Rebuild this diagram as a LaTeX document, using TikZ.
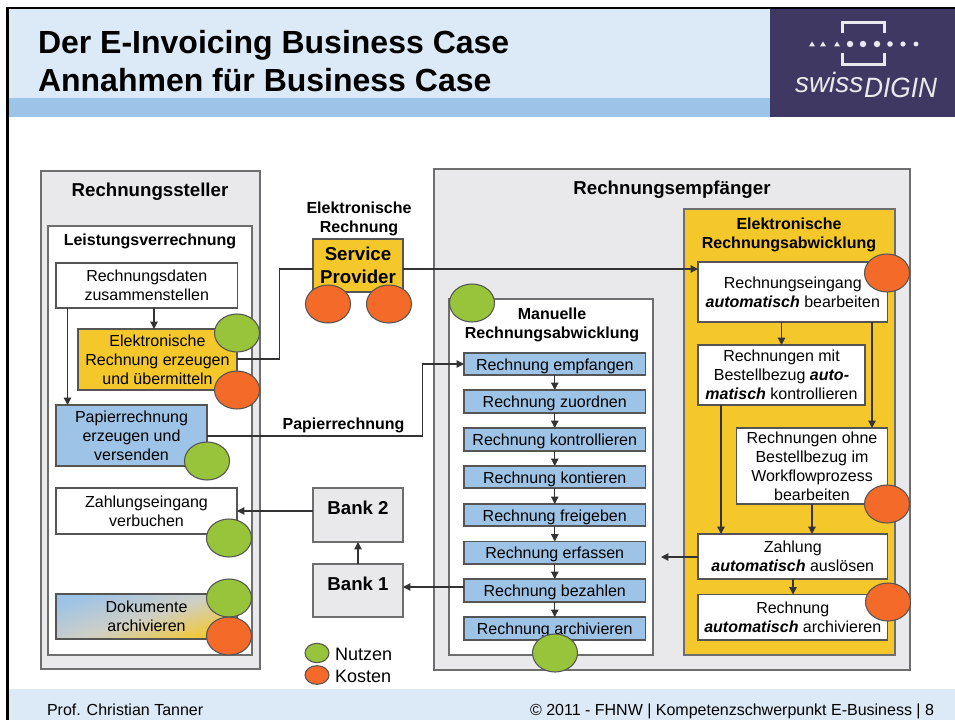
\documentclass[tikz,border=0pt]{standalone}
\usepackage{fontspec}
\setmainfont{Liberation Sans}
\usetikzlibrary{arrows.meta,shapes.geometric}
\def\pxu{0.75pt}
\definecolor{hdr}{HTML}{DCEAF8}
\definecolor{band}{HTML}{9CC4E8}
\definecolor{logo}{HTML}{3F3863}
\definecolor{panel}{HTML}{E9E9EB}
\definecolor{gelb}{HTML}{F4C82A}
\definecolor{blau}{HTML}{9DC3E6}
\definecolor{gruen}{HTML}{97C43A}
\definecolor{rot}{HTML}{F46A29}
\definecolor{rand}{HTML}{555555}
\definecolor{panelrand}{HTML}{6E6E6E}
\definecolor{linie}{HTML}{333333}
\definecolor{logotext}{HTML}{E9E9EE}
\definecolor{mitte}{HTML}{CFCFC6}
\newcommand{\fs}[2]{\fontsize{#1}{#2}\selectfont}
\tikzset{
  x=0.75pt,y=-0.75pt,
  plain/.style={inner sep=0pt,outer sep=0pt},
  boxbase/.style={draw=rand,line width=1pt,inner sep=0pt,outer sep=0pt,align=center,font=\fs{12}{14.25}},
  panelbox/.style={boxbase,fill=panel,draw=panelrand,line width=1.1pt},
  whitebox/.style={boxbase,fill=white},
  yellowbox/.style={boxbase,fill=gelb},
  bluebox/.style={boxbase,fill=blau},
  chainbox/.style={bluebox,text height=10pt,text depth=1pt},
  head/.style={plain,align=center,font=\bfseries\fs{12}{14.25},text=black},
  headbig/.style={plain,font=\bfseries\fs{14}{17},text=black},
  nutzen/.style={ellipse,draw=rand,fill=gruen,line width=0.8pt,minimum width=33.75pt,minimum height=28.5pt,inner sep=0pt,outer sep=0pt},
  kosten/.style={nutzen,fill=rot},
  conn/.style={draw=linie,line width=0.9pt,-{Triangle[length=5.5pt,width=5.5pt]}},
  link/.style={draw=linie,line width=0.9pt},
}
\newcommand{\bx}[7][]{% style, name, x1,y1,x2,y2,text
  \node[#2,#1,anchor=center,minimum width={(#5-#3)*\pxu},minimum height={(#6-#4)*\pxu}] (#7) at ({(#3+#5)/2},{(#4+#6)/2})}
\begin{document}
\begin{tikzpicture}
\useasboundingbox (0,0) rectangle (955,720);
\fill[white] (0,0) rectangle (955,720);
% header / footer
\fill[hdr] (9,9) rectangle (770,98);
\fill[band] (9,98) rectangle (770,117);
\fill[logo] (770,9) rectangle (955,117);
\fill[hdr] (9,689) rectangle (955,720);
\fill[black] (6,7) rectangle (955,9.5);
\fill[black] (6,7) rectangle (9,720);
\node[plain,anchor=base west,font=\bfseries\fs{24}{28}] (title1) at (38,54) {Der E-Invoicing Business Case};
\node[plain,anchor=base west,font=\bfseries\fs{24}{28}] (title2) at (38,92) {Annahmen für Business Case};
\node[plain,anchor=base west,font=\fs{12}{14}] (foot1) at (47,715.5) {Prof. Christian Tanner};
\node[plain,anchor=base east,font=\fs{12}{14}] (foot2) at (934,715.5) {© 2011 - FHNW | Kompetenzschwerpunkt E-Business | 8};
% logo
\draw[logotext,line width=2pt] (842.5,33) -- (842.5,22.5) -- (884.5,22.5) -- (884.5,33);
\draw[logotext,line width=2pt] (842.5,53) -- (842.5,64.5) -- (884.5,64.5) -- (884.5,53);
\foreach \dx/\dr in {850/3.2,863/3.2,877/3.2,890/2.8,903/2.6,916/2.4}{\fill[logotext] (\dx,44) circle[radius=\dr*0.75pt];}
\foreach \dx in {812,823,837}{\fill[logotext] (\dx-3,46.5) -- (\dx+3,46.5) -- (\dx,41.5) -- cycle;}
\node[plain,anchor=base west,text=logotext,font=\itshape\fs{21}{24}] (logoa) at (795,93) {swiss};
\node[plain,anchor=base west,text=logotext,font=\itshape\fs{21}{24}] (logob) at (864,98) {\scalebox{0.94}[1]{DIGIN}};
% panels
\bx{panelbox}{41}{171}{260}{669}{steller} {};
\bx[draw=panelrand]{whitebox}{48}{226}{252}{655}{leist} {};
\bx{panelbox}{434}{169}{910}{670}{empf} {};
\bx[draw=panelrand]{whitebox}{449}{299}{653}{655}{manuell} {};
\bx[draw=panelrand]{yellowbox}{684}{209}{895}{655}{elek} {};
\node[headbig] (t1) at (150,191.5) {Rechnungssteller};
\node[head] (t2) at (150,241.5) {Leistungsverrechnung};
\node[headbig] (t3) at (672,189.5) {Rechnungsempfänger};
\node[head] (t4) at (552,325) {Manuelle\\Rechnungsabwicklung};
\node[head] (t5) at (789,234.5) {Elektronische\\Rechnungsabwicklung};
\node[head] (t6) at (359,219) {Elektronische\\Rechnung};
% left boxes
\bx{whitebox}{56}{263}{237.5}{308}{daten} {Rechnungsdaten\\zusammenstellen};
\bx{yellowbox}{78}{329}{237}{390}{erzeugen} {Elektronische\\Rechnung erzeugen\\und übermitteln};
\bx{bluebox}{56}{405}{207}{466}{papier} {Papierrechnung\\erzeugen und\\versenden};
\bx{whitebox}{56}{488}{237}{534}{zahlein} {Zahlungseingang\\verbuchen};
\bx[top color=blau,bottom color=gelb,middle color=mitte,shading angle=18]{boxbase}{56}{594}{237}{639}{doku} {Dokumente\\archivieren};
% middle
\bx[font=\bfseries\fs{14}{17}]{yellowbox}{313}{239}{403}{292}{sp} {Service\\Provider};
\bx[font=\bfseries\fs{14}{17},text depth=10.5pt]{panelbox}{313}{488}{403}{542}{bank2} {Bank 2};
\bx[font=\bfseries\fs{14}{17},text depth=10.5pt]{panelbox}{313}{564}{403}{617}{bank1} {Bank 1};
% manual chain
\bx{chainbox}{464}{353}{645.5}{375}{m1} {Rechnung empfangen};
\bx{chainbox}{464}{390}{645.5}{413}{m2} {Rechnung zuordnen};
\bx{chainbox}{464}{428}{645.5}{451}{m3} {Rechnung kontrollieren};
\bx{chainbox}{464}{466}{645.5}{488}{m4} {Rechnung kontieren};
\bx{chainbox}{464}{504}{645.5}{526}{m5} {Rechnung freigeben};
\bx{chainbox}{464}{541.5}{645.5}{564}{m6} {Rechnung erfassen};
\bx{chainbox}{464}{579}{645.5}{602}{m7} {Rechnung bezahlen};
\bx{chainbox}{464}{617}{645.5}{640}{m8} {Rechnung archivieren};
% right boxes
\bx{whitebox}{698}{262}{887.5}{322}{r1} {Rechnungseingang\\\textbf{\textit{automatisch}} bearbeiten};
\bx{whitebox}{698}{345}{865}{405}{r2} {Rechnungen mit\\Bestellbezug \textbf{\textit{auto-}}\\\textbf{\textit{matisch}} kontrollieren};
\bx{whitebox}{736.5}{428}{887.5}{504}{r3} {Rechnungen ohne\\Bestellbezug im\\Workflowprozess\\bearbeiten};
\bx{whitebox}{698}{534}{887.5}{579}{r4} {Zahlung\\\textbf{\textit{automatisch}} auslösen};
\bx{whitebox}{698}{594.5}{887.5}{640}{r5} {Rechnung\\\textbf{\textit{automatisch}} archivieren};
% labels
\node[head] (lp) at (343.5,425.5) {Papierrechnung};
% connectors
\coordinate (knick1) at (279.5,359);
\coordinate (knick2) at (422.5,436);
\coordinate (ysp) at (0,269);
\coordinate (ybk) at (0,587);
\coordinate (frei) at (661,557);
\draw[conn] ([xshift=98*\pxu]daten.south west) -- ([xshift=98*\pxu]daten.south west |- erzeugen.north);
\draw[conn] ([xshift=11.5*\pxu]daten.south west) -- ([xshift=11.5*\pxu]daten.south west |- papier.north);
\draw[link] (erzeugen.east |- knick1) -- (knick1) -- (knick1 |- ysp) -- (sp.west |- ysp);
\draw[conn] (sp.east |- ysp) -- (r1.west |- ysp);
\draw[conn] (papier.east |- knick2) -- (knick2) -- (knick2 |- m1.west) -- (m1.west);
\draw[conn] (bank2.west |- zahlein.east) -- (zahlein.east);
\draw[conn] (bank1.north) -- (bank2.south);
\draw[conn] (m7.west |- ybk) -- (bank1.east |- ybk);
\foreach \a/\b in {m1/m2,m2/m3,m3/m4,m4/m5,m5/m6,m6/m7,m7/m8}{\draw[conn] (\a.south) -- (\b.north);}
\draw[conn] (r4.west |- frei) -- (frei);
\draw[conn] ([xshift=83.5*\pxu]r1.south west) -- ([xshift=83.5*\pxu]r1.south west |- r2.north);
\draw[conn] ([xshift=174*\pxu]r1.south west) -- ([xshift=174*\pxu]r1.south west |- r3.north);
\draw[conn] ([xshift=23*\pxu]r2.south west) -- ([xshift=23*\pxu]r2.south west |- r4.north);
\draw[conn] ([xshift=75.5*\pxu]r3.south west) -- ([xshift=75.5*\pxu]r3.south west |- r4.north);
\draw[conn] ([xshift=95*\pxu]r4.south west) -- ([xshift=95*\pxu]r4.south west |- r5.north);
% ellipses
\node[nutzen] (n1) at (237,333) {};
\node[kosten] (k1) at (237,390) {};
\node[nutzen] (n2) at (207,461) {};
\node[nutzen] (n3) at (229,538) {};
\node[nutzen] (n4) at (229,598) {};
\node[kosten] (k2) at (229,636) {};
\node[kosten] (k3) at (328,304) {};
\node[kosten] (k4) at (389,304) {};
\node[nutzen] (n5) at (472,303) {};
\node[nutzen] (n6) at (555,653) {};
\node[kosten] (k5) at (887,273) {};
\node[kosten] (k6) at (887,504) {};
\node[kosten] (k7) at (888,602) {};
\node[nutzen,minimum width=18pt,minimum height=14.5pt] (ln) at (317,653) {};
\node[kosten,minimum width=18pt,minimum height=14pt] (lk) at (317,675) {};
\node[plain,anchor=west,font=\fs{13.5}{16}] (lnt) at (335,654.5) {Nutzen};
\node[plain,anchor=west,font=\fs{13.5}{16}] (lkt) at (335,676.5) {Kosten};
\end{tikzpicture}
\end{document}
